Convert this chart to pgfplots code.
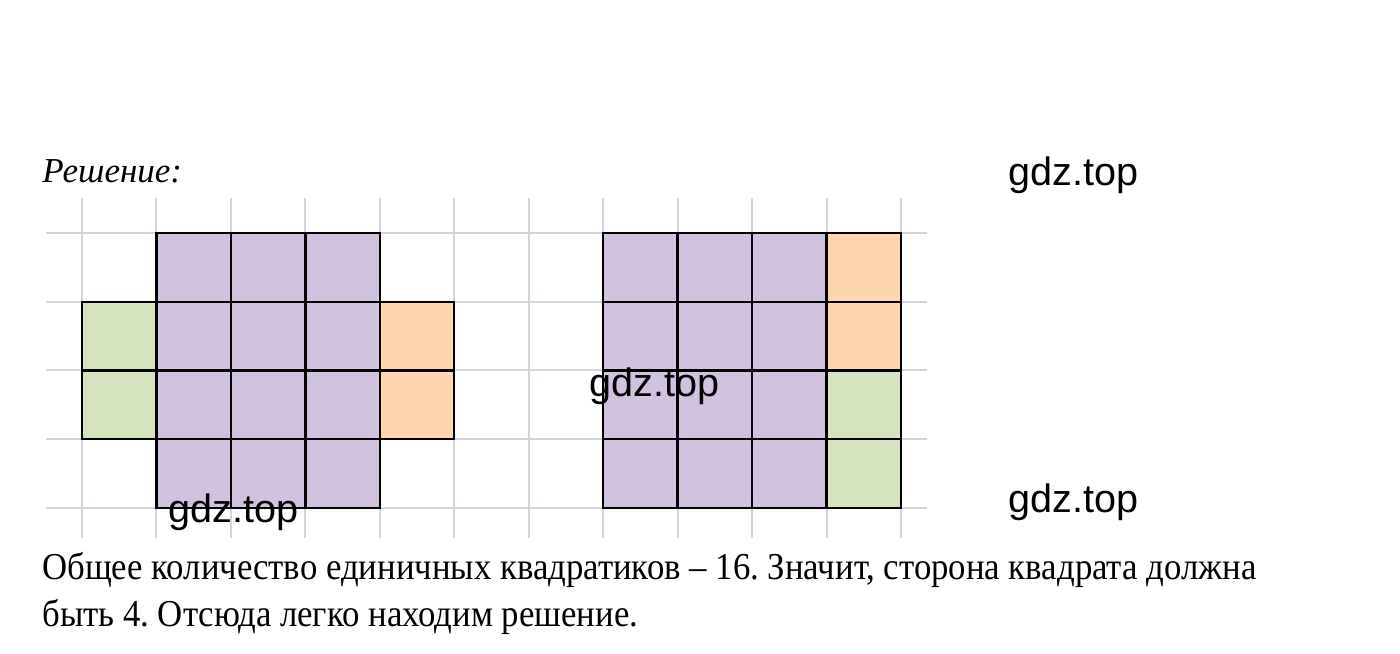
\documentclass[border=0pt]{standalone}
\usepackage{fontspec}
\setmainfont{Liberation Serif}
\newfontfamily\wm{Liberation Sans}
\usepackage{graphicx}
\usepackage{pgfplots}
\pgfplotsset{compat=1.18}

\definecolor{purp}{RGB}{209,195,223}
\definecolor{grn}{RGB}{213,228,190}
\definecolor{orng}{RGB}{253,214,176}
\definecolor{gridc}{RGB}{212,212,222}

\frenchspacing
\begin{document}
\begin{tikzpicture}
\begin{axis}[
    width=700pt, height=327pt,
    scale only axis,
    hide axis,
    clip=false,
    xmin=-1.1014, xmax=17.703,
    ymin=-2.1236, ymax=7.389,
    unbounded coords=jump,
  ]
  % light grid
  \addplot[gridc, line width=1pt] coordinates {
    (0,-0.44) (0,4.51) (nan,nan)
    (1,-0.44) (1,4.51) (nan,nan)
    (2,-0.44) (2,4.51) (nan,nan)
    (3,-0.44) (3,4.51) (nan,nan)
    (4,-0.44) (4,4.51) (nan,nan)
    (5,-0.44) (5,4.51) (nan,nan)
    (6,-0.44) (6,4.51) (nan,nan)
    (7,-0.44) (7,4.51) (nan,nan)
    (8,-0.44) (8,4.51) (nan,nan)
    (9,-0.44) (9,4.51) (nan,nan)
    (10,-0.44) (10,4.51) (nan,nan)
    (11,-0.44) (11,4.51) (nan,nan)
    (-0.48,0) (11.35,0) (nan,nan)
    (-0.48,1) (11.35,1) (nan,nan)
    (-0.48,2) (11.35,2) (nan,nan)
    (-0.48,3) (11.35,3) (nan,nan)
    (-0.48,4) (11.35,4)
  };
  % left figure
  \addplot[fill=purp, draw=black, line width=1.2pt] coordinates {(1,0) (4,0) (4,4) (1,4)} -- cycle;
  \addplot[fill=grn, draw=black, line width=1.2pt] coordinates {(0,1) (1,1) (1,3) (0,3)} -- cycle;
  \addplot[fill=orng, draw=black, line width=1.2pt] coordinates {(4,1) (5,1) (5,3) (4,3)} -- cycle;
  \addplot[black, line width=1.2pt] coordinates {
    (2,0) (2,4) (nan,nan)
    (3,0) (3,4) (nan,nan)
    (1,1) (4,1) (nan,nan)
    (0,2) (5,2) (nan,nan)
    (1,3) (4,3)
  };
  % right figure
  \addplot[fill=purp, draw=black, line width=1.2pt] coordinates {(7,0) (10,0) (10,4) (7,4)} -- cycle;
  \addplot[fill=orng, draw=black, line width=1.2pt] coordinates {(10,2) (11,2) (11,4) (10,4)} -- cycle;
  \addplot[fill=grn, draw=black, line width=1.2pt] coordinates {(10,0) (11,0) (11,2) (10,2)} -- cycle;
  \addplot[black, line width=1.2pt] coordinates {
    (8,0) (8,4) (nan,nan)
    (9,0) (9,4) (nan,nan)
    (7,1) (11,1) (nan,nan)
    (7,2) (10,2) (nan,nan)
    (7,3) (11,3)
  };

  \path (rel axis cs:0,0) rectangle (rel axis cs:1,1);

  \node[anchor=base west, inner sep=0pt, font=\fontsize{17.5}{20}\selectfont\itshape]
    at (axis cs:-0.537,4.727) {Решение:};
  \node[anchor=base west, inner sep=0pt, font=\fontsize{19}{22}\selectfont]
    at (axis cs:-0.537,-1.047) {\scalebox{0.915}[1]{Общее количество единичных квадратиков – 16. Значит, сторона квадрата должна}};
  \node[anchor=base west, inner sep=0pt, font=\fontsize{19}{22}\selectfont]
    at (axis cs:-0.537,-1.731) {\scalebox{0.915}[1]{быть 4. Отсюда легко находим решение.}};

  \node[anchor=base west, inner sep=0pt, font=\wm\fontsize{19.8}{24}\selectfont] at (axis cs:12.438,4.684) {gdz.top};
  \node[anchor=base west, inner sep=0pt, font=\wm\fontsize{19.8}{24}\selectfont] at (axis cs:6.810,1.615) {gdz.top};
  \node[anchor=base west, inner sep=0pt, font=\wm\fontsize{19.8}{24}\selectfont] at (axis cs:1.155,-0.204) {gdz.top};
  \node[anchor=base west, inner sep=0pt, font=\wm\fontsize{19.8}{24}\selectfont] at (axis cs:12.438,-0.073) {gdz.top};
\end{axis}
\end{tikzpicture}
\end{document}
